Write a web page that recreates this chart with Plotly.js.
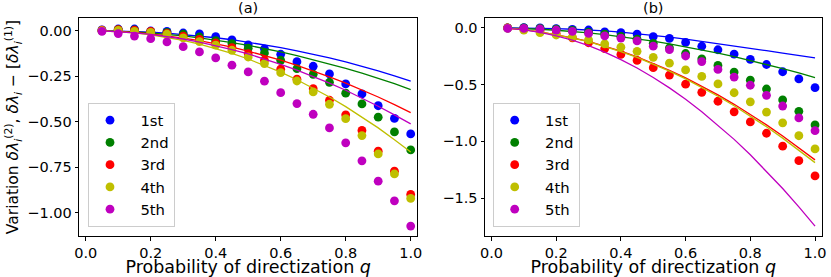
<!DOCTYPE html>
<html><head><meta charset="utf-8">
<script src="https://cdn.plot.ly/plotly-3.0.1.min.js"></script>
<style>html,body{margin:0;padding:0;background:#fff;} #chart{width:831px;height:277px;}</style>
</head><body><div id="chart"></div>
<script>
// Probability of directization q
const q = [0.05, 0.10, 0.15, 0.20, 0.25, 0.30, 0.35, 0.40, 0.45, 0.50,
           0.55, 0.60, 0.65, 0.70, 0.75, 0.80, 0.85, 0.90, 0.95, 1.00];
const seriesNames = ["1st", "2nd", "3rd", "4th", "5th"];

// Panel (a): dots
const a1st = [0.004, 0.009, 0.009, -0.002, -0.004, -0.013, -0.018, -0.033, -0.051, -0.078, -0.100, -0.130, -0.171, -0.196, -0.238, -0.293, -0.348, -0.413, -0.483, -0.568];
const a2nd = [0.000, 0.005, 0.004, -0.005, -0.010, -0.020, -0.035, -0.055, -0.071, -0.097, -0.123, -0.163, -0.209, -0.240, -0.284, -0.344, -0.403, -0.476, -0.557, -0.656];
const a3rd = [0.002, 0.006, 0.002, -0.004, -0.015, -0.030, -0.048, -0.068, -0.093, -0.127, -0.163, -0.212, -0.267, -0.319, -0.383, -0.463, -0.549, -0.663, -0.773, -0.901];
const a4th = [0.000, 0.001, -0.004, -0.010, -0.020, -0.040, -0.060, -0.080, -0.108, -0.145, -0.181, -0.231, -0.277, -0.337, -0.405, -0.484, -0.577, -0.678, -0.788, -0.923];
const a5th = [-0.004, -0.016, -0.030, -0.044, -0.062, -0.088, -0.117, -0.150, -0.190, -0.227, -0.278, -0.341, -0.401, -0.460, -0.535, -0.617, -0.716, -0.828, -0.936, -1.075];
// Panel (a): lines
const a1stLine = [0.000, -0.002, -0.005, -0.009, -0.014, -0.021, -0.029, -0.039, -0.050, -0.063, -0.077, -0.093, -0.111, -0.129, -0.150, -0.172, -0.196, -0.221, -0.249, -0.278];
const a2ndLine = [-0.001, -0.003, -0.007, -0.013, -0.020, -0.029, -0.040, -0.052, -0.066, -0.081, -0.098, -0.117, -0.137, -0.159, -0.182, -0.207, -0.234, -0.262, -0.292, -0.324];
const a3rdLine = [-0.001, -0.005, -0.010, -0.018, -0.028, -0.041, -0.055, -0.072, -0.091, -0.113, -0.136, -0.162, -0.191, -0.221, -0.254, -0.289, -0.326, -0.365, -0.407, -0.451];
const a4thLine = [-0.001, -0.005, -0.012, -0.023, -0.036, -0.053, -0.074, -0.098, -0.125, -0.156, -0.190, -0.228, -0.270, -0.316, -0.365, -0.418, -0.475, -0.535, -0.600, -0.668];
const a5thLine = [-0.001, -0.005, -0.012, -0.021, -0.032, -0.046, -0.063, -0.082, -0.104, -0.128, -0.155, -0.185, -0.217, -0.251, -0.289, -0.328, -0.371, -0.416, -0.463, -0.513];

// Panel (b): dots
const b1st = [0.000, 0.002, 0.000, -0.007, -0.013, -0.019, -0.035, -0.042, -0.055, -0.077, -0.093, -0.128, -0.162, -0.193, -0.231, -0.278, -0.323, -0.387, -0.450, -0.527];
const b2nd = [0.000, 0.000, -0.005, -0.012, -0.022, -0.038, -0.055, -0.075, -0.100, -0.136, -0.176, -0.226, -0.274, -0.331, -0.390, -0.461, -0.539, -0.635, -0.736, -0.856];
const b3rd = [0.000, -0.008, -0.025, -0.050, -0.088, -0.131, -0.183, -0.234, -0.287, -0.351, -0.416, -0.496, -0.568, -0.647, -0.740, -0.829, -0.929, -1.043, -1.171, -1.305];
const b4th = [-0.003, -0.020, -0.042, -0.063, -0.082, -0.105, -0.142, -0.170, -0.207, -0.260, -0.311, -0.371, -0.428, -0.494, -0.572, -0.652, -0.742, -0.837, -0.951, -1.067];
const b5th = [-0.005, -0.004, -0.010, -0.019, -0.031, -0.049, -0.070, -0.090, -0.115, -0.161, -0.192, -0.248, -0.297, -0.366, -0.434, -0.506, -0.595, -0.689, -0.794, -0.906];
// Panel (b): lines
const b1stLine = [0.000, -0.001, -0.003, -0.007, -0.012, -0.018, -0.026, -0.037, -0.050, -0.065, -0.082, -0.100, -0.119, -0.139, -0.160, -0.180, -0.201, -0.222, -0.243, -0.264];
const b2ndLine = [-0.002, -0.006, -0.012, -0.021, -0.031, -0.044, -0.060, -0.077, -0.096, -0.117, -0.141, -0.166, -0.193, -0.222, -0.254, -0.287, -0.322, -0.359, -0.397, -0.438];
const b3rdLine = [-0.004, -0.016, -0.035, -0.060, -0.088, -0.120, -0.160, -0.205, -0.255, -0.312, -0.374, -0.441, -0.514, -0.591, -0.674, -0.762, -0.855, -0.953, -1.056, -1.164];
const b4thLine = [-0.004, -0.016, -0.036, -0.061, -0.090, -0.122, -0.163, -0.209, -0.260, -0.318, -0.381, -0.450, -0.524, -0.603, -0.687, -0.777, -0.872, -0.972, -1.077, -1.188];
const b5thLine = [-0.004, -0.017, -0.039, -0.070, -0.109, -0.157, -0.214, -0.280, -0.354, -0.437, -0.529, -0.629, -0.739, -0.857, -0.983, -1.119, -1.263, -1.416, -1.578, -1.748];

const xTicks = [0.0, 0.2, 0.4, 0.6, 0.8, 1.0];
const xTickText = ["0.0", "0.2", "0.4", "0.6", "0.8", "1.0"];
const yTicksA = [0.00, -0.25, -0.50, -0.75, -1.00];
const yTickTextA = ["0.00", "\u22120.25", "\u22120.50", "\u22120.75", "\u22121.00"];
const yTicksB = [0.0, -0.5, -1.0, -1.5];
const yTickTextB = ["0.0", "\u22120.5", "\u22121.0", "\u22121.5"];

const colors = ["#0000ff", "#008000", "#ff0000", "#bfbf00", "#bf00bf"];
const FONT = "'DejaVu Sans', sans-serif";

const panels = [
  {dots: [a1st, a2nd, a3rd, a4th, a5th], lines: [a1stLine, a2ndLine, a3rdLine, a4thLine, a5thLine], xa: "x", ya: "y", legend: "legend"},
  {dots: [b1st, b2nd, b3rd, b4th, b5th], lines: [b1stLine, b2ndLine, b3rdLine, b4thLine, b5thLine], xa: "x2", ya: "y2", legend: "legend2"}
];

const NB = "\u00a0\u00a0";
const traces = [];
panels.forEach(p => {
  for (let i = 0; i < 5; i++) {
    traces.push({x: q, y: p.dots[i], type: "scatter", mode: "markers", name: NB + seriesNames[i],
      xaxis: p.xa, yaxis: p.ya, legend: p.legend,
      marker: {color: colors[i], size: 8.8, line: {width: 0}}, cliponaxis: false});
    traces.push({x: q, y: p.lines[i], type: "scatter", mode: "lines", showlegend: false,
      xaxis: p.xa, yaxis: p.ya, line: {color: colors[i], width: 1.3}, hoverinfo: "skip"});
  }
});

const W = 831;
const axBase = {
  showgrid: false, zeroline: false, showline: true, mirror: true,
  linecolor: "#000", linewidth: 1, ticks: "outside", ticklen: 3.5, tickwidth: 1, tickcolor: "#000",
  tickfont: {family: FONT, size: 14.5, color: "#000"}, automargin: false
};
const xTitle = {text: "Probability of directization <i>q</i>", font: {family: FONT, size: 17.5, color: "#000"}, standoff: 4};
const yTitleText = "Variation <i>δλ</i><sub><i>i</i></sub><sup>(2)</sup>, <i>δλ</i><sub><i>i</i></sub> − [<i>δλ</i><sub><i>i</i></sub><sup>(1)</sup>]";

const legendBase = {
  font: {family: FONT, size: 14.8, color: "#000"}, bgcolor: "rgba(255,255,255,0.8)",
  bordercolor: "#cccccc", borderwidth: 1, xanchor: "left", yanchor: "bottom", y: 0.041,
  tracegroupgap: 0, itemwidth: 32
};

const layout = {
  width: W, height: 277,
  margin: {l: 0, r: 0, t: 18, b: 41},
  paper_bgcolor: "#fff", plot_bgcolor: "#fff",
  font: {family: FONT, size: 14.5, color: "#000"},
  showlegend: true,
  xaxis: Object.assign({}, axBase, {domain: [79.2 / W, 417.2 / W], range: [-0.02, 1.02], anchor: "y",
    tickvals: xTicks, ticktext: xTickText, title: xTitle}),
  yaxis: Object.assign({}, axBase, {domain: [0, 1], range: [-1.1295, 0.0695], anchor: "x",
    tickvals: yTicksA, ticktext: yTickTextA,
    title: {text: yTitleText, font: {family: FONT, size: 15.5, color: "#000"}, standoff: 4}}),
  xaxis2: Object.assign({}, axBase, {domain: [485 / W, 821.5 / W], range: [-0.02, 1.02], anchor: "y2",
    tickvals: xTicks, ticktext: xTickText, title: xTitle}),
  yaxis2: Object.assign({}, axBase, {domain: [0, 1], range: [-1.835, 0.087], anchor: "x2",
    tickvals: yTicksB, ticktext: yTickTextB}),
  legend: Object.assign({}, legendBase, {x: 88 / W}),
  legend2: Object.assign({}, legendBase, {x: 492.7 / W}),
  annotations: [
    {text: "(a)", xref: "paper", yref: "paper", x: 248.2 / W, y: 1, xanchor: "center", yanchor: "bottom",
     showarrow: false, font: {family: FONT, size: 14.5, color: "#000"}, yshift: 0},
    {text: "(b)", xref: "paper", yref: "paper", x: 653.25 / W, y: 1, xanchor: "center", yanchor: "bottom",
     showarrow: false, font: {family: FONT, size: 14.5, color: "#000"}, yshift: 0}
  ]
};

Plotly.newPlot("chart", traces, layout, {displayModeBar: false});
</script>
</body></html>
